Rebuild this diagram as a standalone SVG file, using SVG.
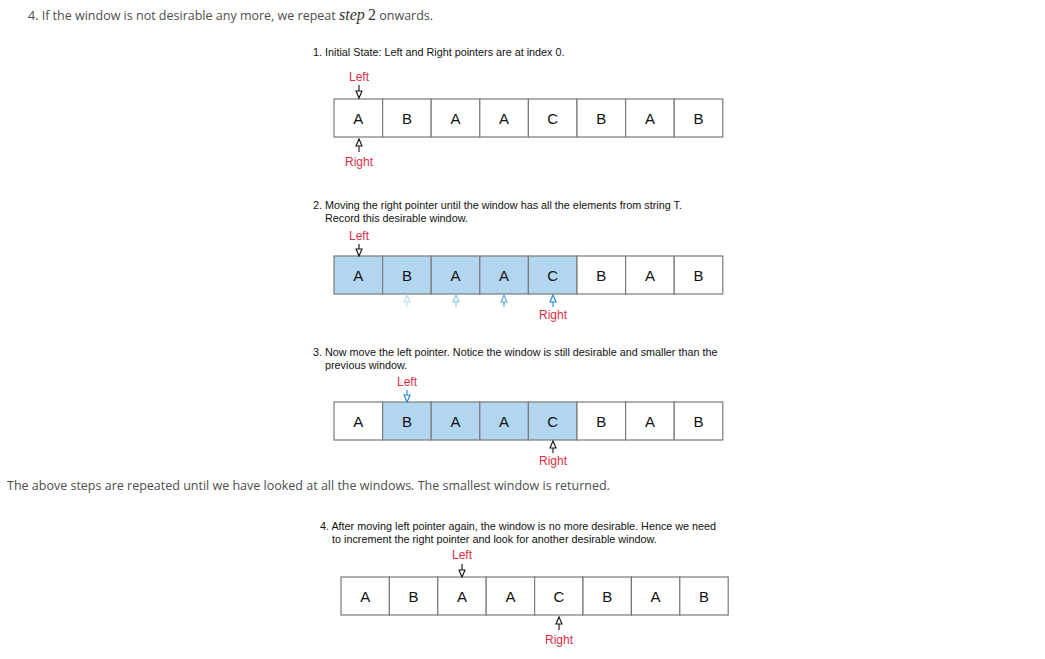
<svg xmlns="http://www.w3.org/2000/svg" width="1045" height="659" viewBox="0 0 1045 659">
<style>
.page{font-family:"Open Sans","Noto Sans",sans-serif;font-size:12.5px;fill:#4d4d4d}
.math{font-family:"Liberation Serif",serif;font-size:16px;fill:#333}
.cap{font-family:"Liberation Sans",Arial,sans-serif;font-size:10.8px;fill:#111}
.cell{fill:#ffffff;stroke:#7a7a7a;stroke-width:1.2}
.cell.on{fill:#b3d6f0}
.ch{font-family:"Liberation Sans",Arial,sans-serif;font-size:15px;fill:#111;text-anchor:middle}
.lbl{font-family:"Liberation Sans",Arial,sans-serif;font-size:12px;fill:#d92e45;text-anchor:middle}
.ar{fill:#fff;stroke-width:1.1;stroke-linejoin:miter}
</style>
<rect width="1045" height="659" fill="#fff"/>
<text class="page" x="28" y="20">4. If the window is not desirable any more, we repeat <tspan class="math" font-style="italic">step</tspan> <tspan class="math">2</tspan> onwards.</text>

<g id="step1">
<text class="cap" x="313" y="56">1. Initial State: Left and Right pointers are at index 0.</text>
<g id="arr1">
<rect class="cell" x="334" y="99" width="48.6" height="38"/><rect class="cell" x="382.6" y="99" width="48.6" height="38"/><rect class="cell" x="431.2" y="99" width="48.6" height="38"/><rect class="cell" x="479.8" y="99" width="48.6" height="38"/><rect class="cell" x="528.4" y="99" width="48.6" height="38"/><rect class="cell" x="577" y="99" width="48.6" height="38"/><rect class="cell" x="625.6" y="99" width="48.6" height="38"/><rect class="cell" x="674.2" y="99" width="48.6" height="38"/>
<text class="ch" x="358.3" y="123.5">A</text><text class="ch" x="406.9" y="123.5">B</text><text class="ch" x="455.5" y="123.5">A</text><text class="ch" x="504.1" y="123.5">A</text><text class="ch" x="552.7" y="123.5">C</text><text class="ch" x="601.3" y="123.5">B</text><text class="ch" x="649.9" y="123.5">A</text><text class="ch" x="698.5" y="123.5">B</text>
</g>
<text class="lbl" x="359" y="81">Left</text>
<text class="lbl" x="359" y="166">Right</text>
</g>

<g id="step2">
<text class="cap" x="313" y="209">2. Moving the right pointer until the window has all the elements from string T.</text>
<text class="cap" x="325" y="222">Record this desirable window.</text>
<g id="arr2">
<rect class="cell on" x="334" y="256" width="48.6" height="38"/><rect class="cell on" x="382.6" y="256" width="48.6" height="38"/><rect class="cell on" x="431.2" y="256" width="48.6" height="38"/><rect class="cell on" x="479.8" y="256" width="48.6" height="38"/><rect class="cell on" x="528.4" y="256" width="48.6" height="38"/><rect class="cell" x="577" y="256" width="48.6" height="38"/><rect class="cell" x="625.6" y="256" width="48.6" height="38"/><rect class="cell" x="674.2" y="256" width="48.6" height="38"/>
<text class="ch" x="358.3" y="280.5">A</text><text class="ch" x="406.9" y="280.5">B</text><text class="ch" x="455.5" y="280.5">A</text><text class="ch" x="504.1" y="280.5">A</text><text class="ch" x="552.7" y="280.5">C</text><text class="ch" x="601.3" y="280.5">B</text><text class="ch" x="649.9" y="280.5">A</text><text class="ch" x="698.5" y="280.5">B</text>
</g>
<text class="lbl" x="359" y="240">Left</text>
<text class="lbl" x="553" y="319">Right</text>
</g>

<g id="step3">
<text class="cap" x="313" y="356">3. Now move the left pointer. Notice the window is still desirable and smaller than the</text>
<text class="cap" x="325" y="369">previous window.</text>
<g id="arr3">
<rect class="cell" x="334" y="402" width="48.6" height="38"/><rect class="cell on" x="382.6" y="402" width="48.6" height="38"/><rect class="cell on" x="431.2" y="402" width="48.6" height="38"/><rect class="cell on" x="479.8" y="402" width="48.6" height="38"/><rect class="cell on" x="528.4" y="402" width="48.6" height="38"/><rect class="cell" x="577" y="402" width="48.6" height="38"/><rect class="cell" x="625.6" y="402" width="48.6" height="38"/><rect class="cell" x="674.2" y="402" width="48.6" height="38"/>
<text class="ch" x="358.3" y="426.5">A</text><text class="ch" x="406.9" y="426.5">B</text><text class="ch" x="455.5" y="426.5">A</text><text class="ch" x="504.1" y="426.5">A</text><text class="ch" x="552.7" y="426.5">C</text><text class="ch" x="601.3" y="426.5">B</text><text class="ch" x="649.9" y="426.5">A</text><text class="ch" x="698.5" y="426.5">B</text>
</g>
<text class="lbl" x="407" y="386">Left</text>
<text class="lbl" x="553" y="465">Right</text>
</g>

<text class="page" x="7" y="490">The above steps are repeated until we have looked at all the windows. The smallest window is returned.</text>

<g id="step4">
<text class="cap" x="320" y="530">4. After moving left pointer again, the window is no more desirable. Hence we need</text>
<text class="cap" x="332" y="543">to increment the right pointer and look for another desirable window.</text>
<g id="arr4">
<rect class="cell" x="341" y="577" width="48.4" height="38"/><rect class="cell" x="389.4" y="577" width="48.4" height="38"/><rect class="cell" x="437.8" y="577" width="48.4" height="38"/><rect class="cell" x="486.2" y="577" width="48.4" height="38"/><rect class="cell" x="534.6" y="577" width="48.4" height="38"/><rect class="cell" x="583" y="577" width="48.4" height="38"/><rect class="cell" x="631.4" y="577" width="48.4" height="38"/><rect class="cell" x="679.8" y="577" width="48.4" height="38"/>
<text class="ch" x="365.2" y="601.5">A</text><text class="ch" x="413.6" y="601.5">B</text><text class="ch" x="462" y="601.5">A</text><text class="ch" x="510.4" y="601.5">A</text><text class="ch" x="558.8" y="601.5">C</text><text class="ch" x="607.2" y="601.5">B</text><text class="ch" x="655.6" y="601.5">A</text><text class="ch" x="704" y="601.5">B</text>
</g>
<text class="lbl" x="462" y="559">Left</text>
<text class="lbl" x="559" y="644">Right</text>
</g>

<g id="connectors">
<path class="ar" stroke="#111" d="M359,85 V91 M356,91 H362 L359,98 Z"/>
<path class="ar" stroke="#111" d="M359,244 V249 M356,249 H362 L359,256 Z"/>
<path class="ar" stroke="#1a86cc" d="M407,390 V395 M404,395 H410 L407,402 Z"/>
<path class="ar" stroke="#111" d="M462,564 V570 M459,570 H465 L462,577 Z"/>
<path class="ar" stroke="#111" d="M359,152 V146 M356,146 H362 L359,139 Z"/>
<path class="ar" stroke="#b5dcf3" d="M407,307 V302 M404,302 H410 L407,295 Z"/>
<path class="ar" stroke="#86c3ea" d="M456,307 V302 M453,302 H459 L456,295 Z"/>
<path class="ar" stroke="#57a9de" d="M504,307 V302 M501,302 H507 L504,295 Z"/>
<path class="ar" stroke="#1a86cc" d="M553,307 V302 M550,302 H556 L553,295 Z"/>
<path class="ar" stroke="#111" d="M553,453 V448 M550,448 H556 L553,441 Z"/>
<path class="ar" stroke="#111" d="M559,630 V624 M556,624 H562 L559,617 Z"/>
</g>
</svg>
